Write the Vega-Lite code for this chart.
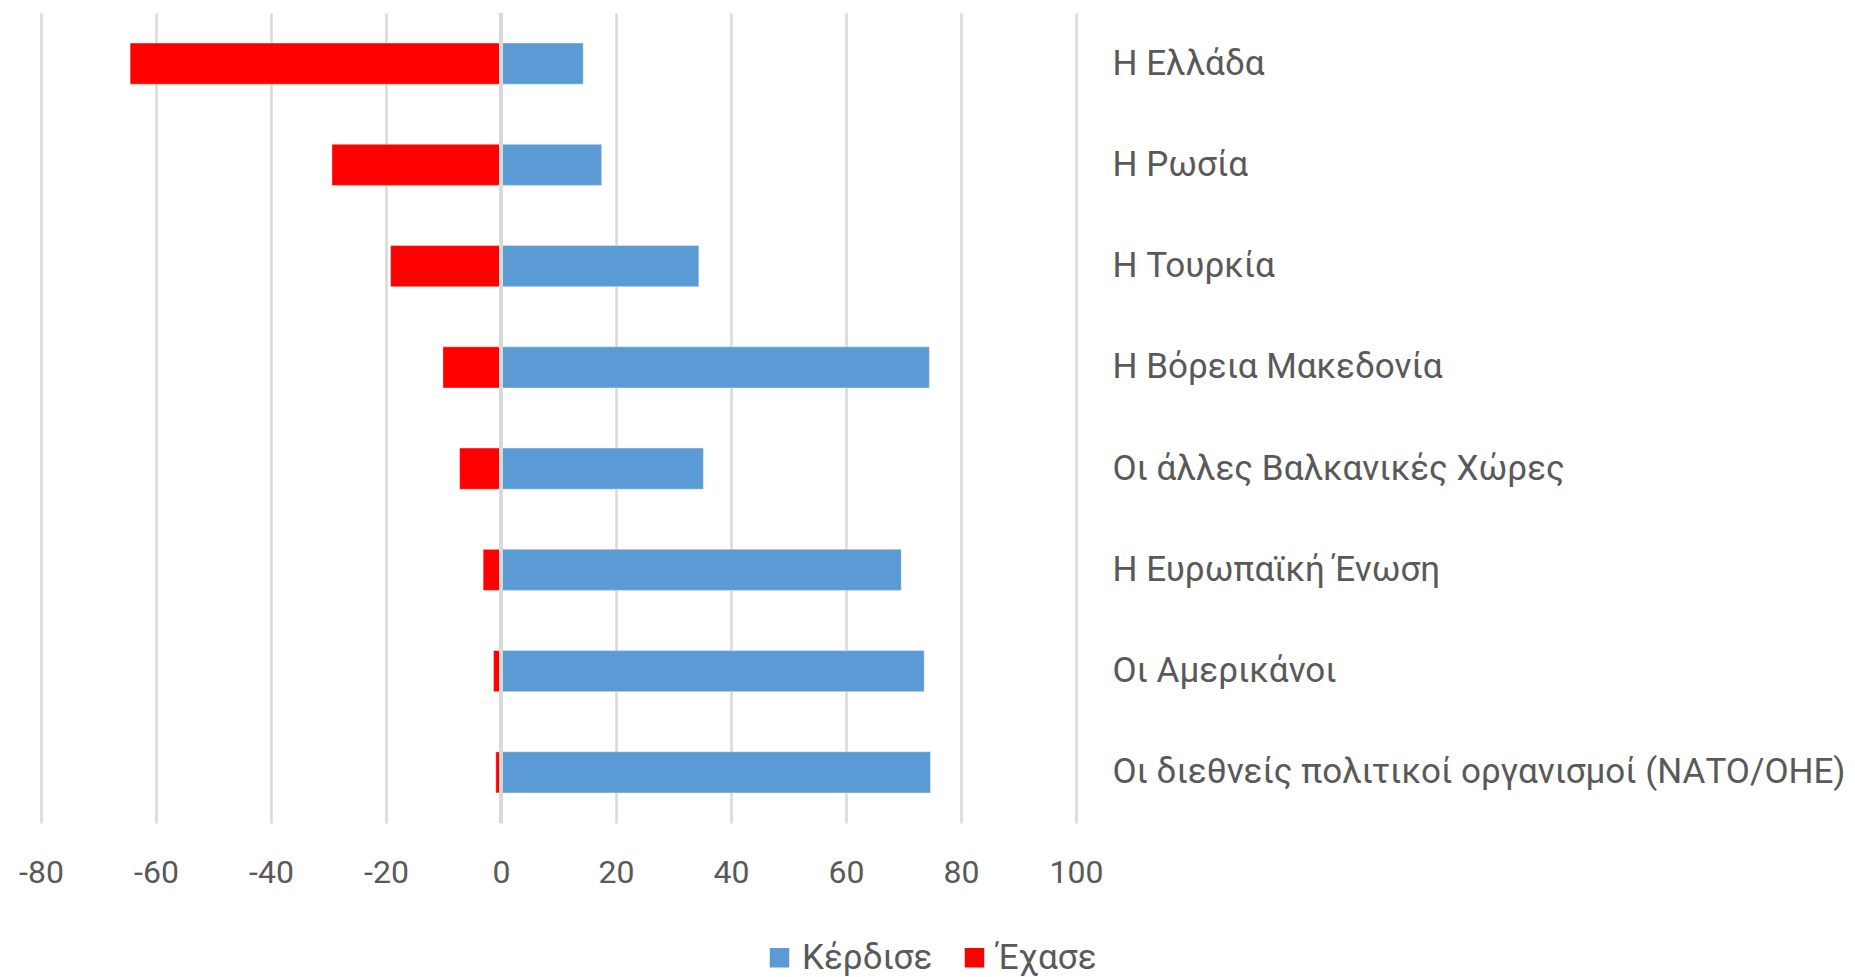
{
  "$schema": "https://vega.github.io/schema/vega-lite/v6.json",
  "autosize": {"type": "none"},
  "width": 1035,
  "height": 810,
  "padding": {"left": 41, "top": 13, "right": 779, "bottom": 154},
  "background": "white",
  "config": {
    "view": {"stroke": null},
    "font": "Roboto"
  },
  "data": {
    "values": [
      {"country": "Η Ελλάδα", "series": "Κέρδισε", "value": 14.3},
      {"country": "Η Ελλάδα", "series": "Έχασε", "value": -64.5},
      {"country": "Η Ρωσία", "series": "Κέρδισε", "value": 17.5},
      {"country": "Η Ρωσία", "series": "Έχασε", "value": -29.4},
      {"country": "Η Τουρκία", "series": "Κέρδισε", "value": 34.4},
      {"country": "Η Τουρκία", "series": "Έχασε", "value": -19.2},
      {"country": "Η Βόρεια Μακεδονία", "series": "Κέρδισε", "value": 74.5},
      {"country": "Η Βόρεια Μακεδονία", "series": "Έχασε", "value": -10.1},
      {"country": "Οι άλλες Βαλκανικές Χώρες", "series": "Κέρδισε", "value": 35.2},
      {"country": "Οι άλλες Βαλκανικές Χώρες", "series": "Έχασε", "value": -7.2},
      {"country": "Η Ευρωπαϊκή Ένωση", "series": "Κέρδισε", "value": 69.6},
      {"country": "Η Ευρωπαϊκή Ένωση", "series": "Έχασε", "value": -3.1},
      {"country": "Οι Αμερικάνοι", "series": "Κέρδισε", "value": 73.6},
      {"country": "Οι Αμερικάνοι", "series": "Έχασε", "value": -1.3},
      {"country": "Οι διεθνείς πολιτικοί οργανισμοί (ΝΑΤΟ/ΟΗΕ)", "series": "Κέρδισε", "value": 74.7},
      {"country": "Οι διεθνείς πολιτικοί οργανισμοί (ΝΑΤΟ/ΟΗΕ)", "series": "Έχασε", "value": -0.9}
    ]
  },
  "layer": [
    {
      "mark": {"type": "bar", "stroke": "white", "strokeOpacity": 0.35, "strokeWidth": 1},
      "encoding": {
        "y": {
          "field": "country",
          "type": "nominal",
          "sort": null,
          "scale": {"paddingInner": 0.595, "paddingOuter": 0.2975},
          "axis": {
            "orient": "right",
            "title": null,
            "domain": false,
            "ticks": false,
            "labelAlign": "left",
            "labelPadding": 36,
            "labelFontSize": 35,
            "labelColor": "#595959",
            "labelLimit": 0
          }
        },
        "x": {
          "field": "value",
          "type": "quantitative",
          "stack": null,
          "scale": {"domain": [-80, 100], "nice": false, "zero": false},
          "axis": {
            "title": null,
            "values": [-80, -60, -40, -20, 0, 20, 40, 60, 80, 100],
            "labelExpr": "'' + datum.value",
            "domain": false,
            "ticks": false,
            "grid": true,
            "gridColor": "#d9d9d9",
            "gridWidth": 2.5,
            "labelPadding": 34,
            "labelFontSize": 32,
            "labelColor": "#595959",
            "labelFlush": false
          }
        },
        "color": {
          "field": "series",
          "type": "nominal",
          "scale": {"domain": ["Κέρδισε", "Έχασε"], "range": ["#5b9bd5", "#ff0000"]},
          "legend": {
            "title": null,
            "orient": "none",
            "direction": "horizontal",
            "legendX": 721,
            "legendY": 927,
            "symbolType": "square",
            "symbolSize": 380,
            "symbolStrokeWidth": 0,
            "labelFontSize": 35,
            "labelColor": "#595959",
            "labelOffset": 5,
            "labelLimit": 0,
            "columnPadding": 24
          }
        }
      }
    },
    {
      "mark": {"type": "rule", "color": "#d9d9d9", "strokeWidth": 3},
      "encoding": {"x": {"datum": 0}}
    }
  ]
}
